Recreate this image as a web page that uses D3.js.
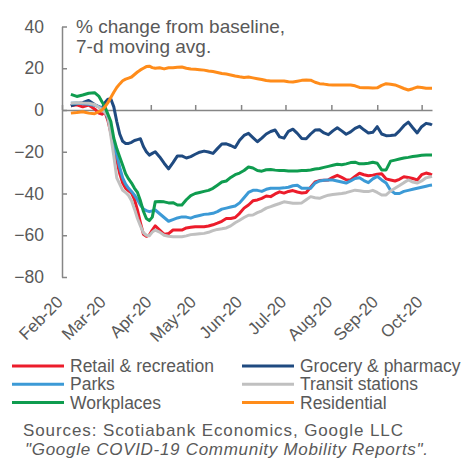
<!DOCTYPE html>
<html>
<head>
<meta charset="utf-8">
<script src="https://cdn.jsdelivr.net/npm/d3@7"></script>
<style>
  body { margin: 0; background: #fff; }
  svg { display: block; font-family: "Liberation Sans", Arial, sans-serif; }
</style>
</head>
<body>
<div id="chart"></div>
<script>
// sample dates (7-day moving average, Feb 21 to Oct 22 2020)
const dates = ["2020-02-21","2020-02-25","2020-02-29","2020-03-04","2020-03-08","2020-03-11","2020-03-13","2020-03-15",
  "2020-03-17","2020-03-19","2020-03-21","2020-03-23","2020-03-25","2020-03-27","2020-03-29","2020-03-31",
  "2020-04-02","2020-04-04","2020-04-06","2020-04-08","2020-04-10","2020-04-12","2020-04-14","2020-04-16",
  "2020-04-18","2020-04-21","2020-04-24","2020-04-27","2020-04-30","2020-05-03","2020-05-06","2020-05-09",
  "2020-05-12","2020-05-15","2020-05-18","2020-05-21","2020-05-24","2020-05-27","2020-05-30","2020-06-02",
  "2020-06-05","2020-06-08","2020-06-11","2020-06-14","2020-06-17","2020-06-20","2020-06-23","2020-06-26",
  "2020-06-29","2020-07-02","2020-07-05","2020-07-08","2020-07-11","2020-07-14","2020-07-17","2020-07-20",
  "2020-07-23","2020-07-26","2020-07-29","2020-08-01","2020-08-04","2020-08-07","2020-08-10","2020-08-13",
  "2020-08-16","2020-08-19","2020-08-22","2020-08-25","2020-08-28","2020-08-31","2020-09-03","2020-09-06",
  "2020-09-09","2020-09-12","2020-09-15","2020-09-18","2020-09-21","2020-09-24","2020-09-27","2020-09-30",
  "2020-10-03","2020-10-06","2020-10-09","2020-10-12","2020-10-15","2020-10-18","2020-10-21","2020-10-22"];

const retail = [2,2.5,1.5,2.4,0.5,-1.5,-2,-1,-5,-11,-17.5,-24,-30.5,-35,-37.5,-38.7,
  -39.8,-43,-48,-54,-59.5,-60.5,-59.9,-57.5,-55.5,-57.5,-59.6,-59.2,-57.5,-57.5,-57.5,-56.5,
  -56.2,-55.9,-55.9,-55.9,-55.6,-55,-54.2,-53.3,-52,-52,-51.5,-49.5,-47,-45.5,-43.5,-43.1,
  -42.3,-41.2,-41.5,-40.2,-39.2,-39.8,-39,-38.6,-39.3,-39.8,-39.5,-37,-34.5,-33.8,-33.6,-33.5,
  -32.3,-31.3,-32.3,-33.4,-33.5,-31.8,-30.3,-31,-31.5,-31.2,-30.8,-30.5,-33,-33.5,-34,-33.2,
  -32,-32.3,-32.8,-33.5,-31,-30.2,-30.8,-31.1];

const grocery = [2,3,3.5,4.6,2.6,1.5,0.8,3.5,5.2,5.3,1.5,-5.5,-11.5,-15,-16,-16,
  -15.5,-14.6,-14.2,-13.8,-17.5,-20,-21.6,-20.8,-20,-22.5,-25.5,-28.2,-25.2,-22,-22,-23,
  -22.3,-21.2,-20.2,-19.7,-20.1,-20.8,-18.5,-16.3,-16.2,-17,-18,-14.5,-12.2,-11.2,-13.2,-15.2,
  -13.5,-11.5,-10.3,-9.6,-12.9,-13.5,-10.2,-9.2,-11.2,-13.6,-13.8,-11.5,-9.6,-9.5,-11,-11.8,
  -10,-8.5,-10,-11.6,-10.5,-8.8,-7.8,-9.5,-11,-10.7,-8,-11.5,-12.3,-12.2,-12,-10,
  -7.5,-5.8,-8.5,-11,-8,-6.4,-6.8,-7.2];

const parks = [3.2,3.3,3,2.7,2.3,1.6,1,-0.5,-4,-9.5,-16,-21.5,-27.5,-32.5,-35.5,-37.5,
  -39,-40.8,-43,-45.5,-47.4,-48.2,-48.7,-48.3,-47.9,-49.7,-51.5,-53.3,-52.5,-51.7,-51.2,-51.3,
  -51.8,-51,-50.5,-50,-49.8,-49.5,-48.7,-47.5,-47,-46.5,-46,-44.5,-42,-39.5,-38.5,-38.5,
  -39,-38,-37.5,-37.5,-37.5,-37.3,-37,-36.3,-36,-37.5,-37.5,-37.5,-35,-34,-33.7,-33.5,
  -33.5,-34,-34.5,-35,-34,-32.8,-32.5,-33.8,-34.8,-33,-31.8,-33.5,-35,-38.5,-40,-40,
  -39,-38.5,-38,-37.5,-37,-36.5,-36,-35.9];

const transit = [3.2,3.5,3.3,3.2,2.6,1.2,0,-1.2,-3,-12.5,-22,-32.5,-35.5,-38.5,-39.5,-41,
  -43.5,-47.5,-52,-55.5,-58.8,-60,-60.2,-58.5,-57.5,-58.5,-60,-60.5,-60.7,-60.7,-60.7,-60.3,
  -59.7,-59.5,-59.3,-59.1,-58.6,-57.8,-57.2,-56.9,-56.5,-55.5,-54,-52.8,-51.5,-50.4,-50.3,-49.2,
  -48.3,-47,-46.3,-45.5,-44.8,-44,-44.3,-44.7,-44.7,-44.5,-43,-41.5,-42,-42.3,-41.5,-40.8,
  -40.5,-40.2,-40,-39.6,-39,-38.4,-38.7,-39,-39.1,-38.5,-39.5,-40.7,-40.7,-38.8,-37.5,-36.2,
  -34.8,-33.5,-34.5,-35,-34,-32.5,-32,-31.8];

const workplaces = [7.5,6.5,7.2,8,8.3,6.5,4,1.5,-2,-5.5,-13.5,-18.5,-22.5,-26.5,-30.5,-33,
  -35,-37.5,-39.5,-43.5,-48.5,-52,-53,-51.3,-44,-43.8,-44,-44.5,-44.4,-45.5,-45.5,-43,
  -41,-40,-39.5,-39,-38.5,-37.5,-36,-34.5,-34,-32.3,-31,-30.2,-29,-27.3,-27.8,-29,
  -29.3,-28.6,-28.5,-28.8,-29,-29,-29.2,-29.2,-29.2,-29,-29,-28.7,-28.3,-28,-27.5,-27,
  -26.5,-26,-26.2,-25.8,-25.2,-25,-25.8,-25.8,-25.5,-25,-25.5,-28.7,-28.7,-24.5,-24,-23.5,
  -23,-22.7,-22.3,-22,-21.7,-21.6,-21.6,-21.6];

const residential = [-1.5,-1.2,-0.8,-1.5,-1.8,-0.8,0,1.5,3.5,6,8.5,10.8,12.5,14,14.8,15.3,
  15.8,17,18.2,19.2,20,20.8,21,20.3,20,20.2,19.7,20.2,20.2,20.5,20.6,20,
  19.6,19.5,19.3,19.1,18.7,18.4,18,17.5,17.2,16.8,16.3,15.9,15.6,15.8,15.4,15,
  14.6,14.1,13.9,13.9,13.9,13.9,13.5,13.4,13.8,14.2,14.4,14.3,13.3,12.6,12.4,12.1,
  12,12,12,12,12,11.6,10.8,10.7,10.6,10.5,10.6,11.8,12.6,12.3,12,11.2,
  10.3,9.6,10.2,11,10.8,10.4,10.4,10.4];

const seriesNames = ["Retail & recreation","Grocery & pharmacy","Parks","Transit stations","Workplaces","Residential"];
const seriesValues = [retail, grocery, parks, transit, workplaces, residential];
const seriesColors = ["#ec1c2b","#1f4a80","#3c9ad6","#c0c0c0","#0f9c4f","#ff8c1a"];

const yTicks = [-80, -60, -40, -20, 0, 20, 40];
const monthTicks = ["2020-02-15","2020-03-15","2020-04-15","2020-05-15","2020-06-15","2020-07-15","2020-08-15","2020-09-15","2020-10-15"];

const W = 465, H = 461;
const textColor = "#595959";
const axisColor = "#868686";
const parse = d3.timeParse("%Y-%m-%d");

const svg = d3.select("#chart").append("svg")
  .attr("width", W)
  .attr("height", H);

// scales
const x = d3.scaleTime()
  .domain([parse("2020-02-15"), parse("2020-10-22")])
  .range([62, 432]);
const y = d3.scaleLinear()
  .domain([-80, 40])
  .range([277, 26.5]);

// y axis, ticks pointing into the plot
const yAxis = svg.append("g")
  .attr("transform", "translate(62,0)")
  .call(d3.axisLeft(y).tickValues(yTicks).tickSizeInner(-5).tickSizeOuter(0).tickPadding(18));
yAxis.select(".domain").attr("stroke", axisColor).attr("stroke-width", 1.5);
yAxis.selectAll(".tick line").attr("stroke", axisColor).attr("stroke-width", 1.5);
yAxis.selectAll(".tick text")
  .attr("fill", textColor)
  .style("font-size", "17.5px");

// x axis along zero, ticks pointing up
const xAxis = svg.append("g")
  .attr("transform", "translate(0," + y(0) + ")")
  .call(d3.axisBottom(x).tickValues(monthTicks.map(parse)).tickSizeInner(-5).tickSizeOuter(0).tickFormat(""));
xAxis.select(".domain").attr("stroke", axisColor).attr("stroke-width", 1.5);
xAxis.selectAll(".tick line").attr("stroke", axisColor).attr("stroke-width", 1.5);

// month labels under the plot, rotated
svg.append("g")
  .selectAll("text")
  .data(monthTicks)
  .join("text")
  .attr("transform", d => "translate(" + (x(parse(d)) + 2) + ",303) rotate(-45)")
  .attr("text-anchor", "end")
  .attr("fill", textColor)
  .style("font-size", "17px")
  .text(d => d3.timeFormat("%b-%y")(parse(d)));

// lines
const line = d3.line()
  .x((d, i) => x(parse(dates[i])))
  .y(d => y(d));

svg.append("g")
  .selectAll("path")
  .data(seriesValues)
  .join("path")
  .attr("d", d => line(d))
  .attr("fill", "none")
  .attr("stroke", (d, i) => seriesColors[i])
  .attr("stroke-width", 3)
  .attr("stroke-linejoin", "round");

// title inside the plot
const title = svg.append("text")
  .attr("fill", textColor)
  .style("font-size", "19px");
title.append("tspan").attr("x", 76).attr("y", 33).text("% change from baseline,");
title.append("tspan").attr("x", 76).attr("y", 53).text("7-d moving avg.");

// legend, two columns, three rows
const leg = svg.append("g")
  .selectAll("g")
  .data(seriesNames)
  .join("g")
  .attr("transform", (d, i) => "translate(" + (i % 2 === 0 ? 12 : 242) + "," + (366 + Math.floor(i / 2) * 18.3) + ")");
leg.append("line")
  .attr("x1", 0).attr("x2", 52)
  .attr("stroke", (d, i) => seriesColors[i])
  .attr("stroke-width", 3);
leg.append("text")
  .attr("x", 58)
  .attr("y", 6)
  .attr("fill", textColor)
  .style("font-size", "17.5px")
  .text(d => d);

// sources, stretched to the reference widths
svg.append("text")
  .attr("x", 23).attr("y", 436)
  .attr("fill", textColor)
  .attr("textLength", 380)
  .attr("lengthAdjust", "spacing")
  .style("font-size", "17px")
  .text("Sources: Scotiabank Economics, Google LLC");
svg.append("text")
  .attr("x", 25).attr("y", 455)
  .attr("fill", textColor)
  .attr("textLength", 403)
  .attr("lengthAdjust", "spacing")
  .style("font-size", "17px")
  .style("font-style", "italic")
  .text("\"Google COVID-19 Community Mobility Reports\".");
</script>
</body>
</html>
